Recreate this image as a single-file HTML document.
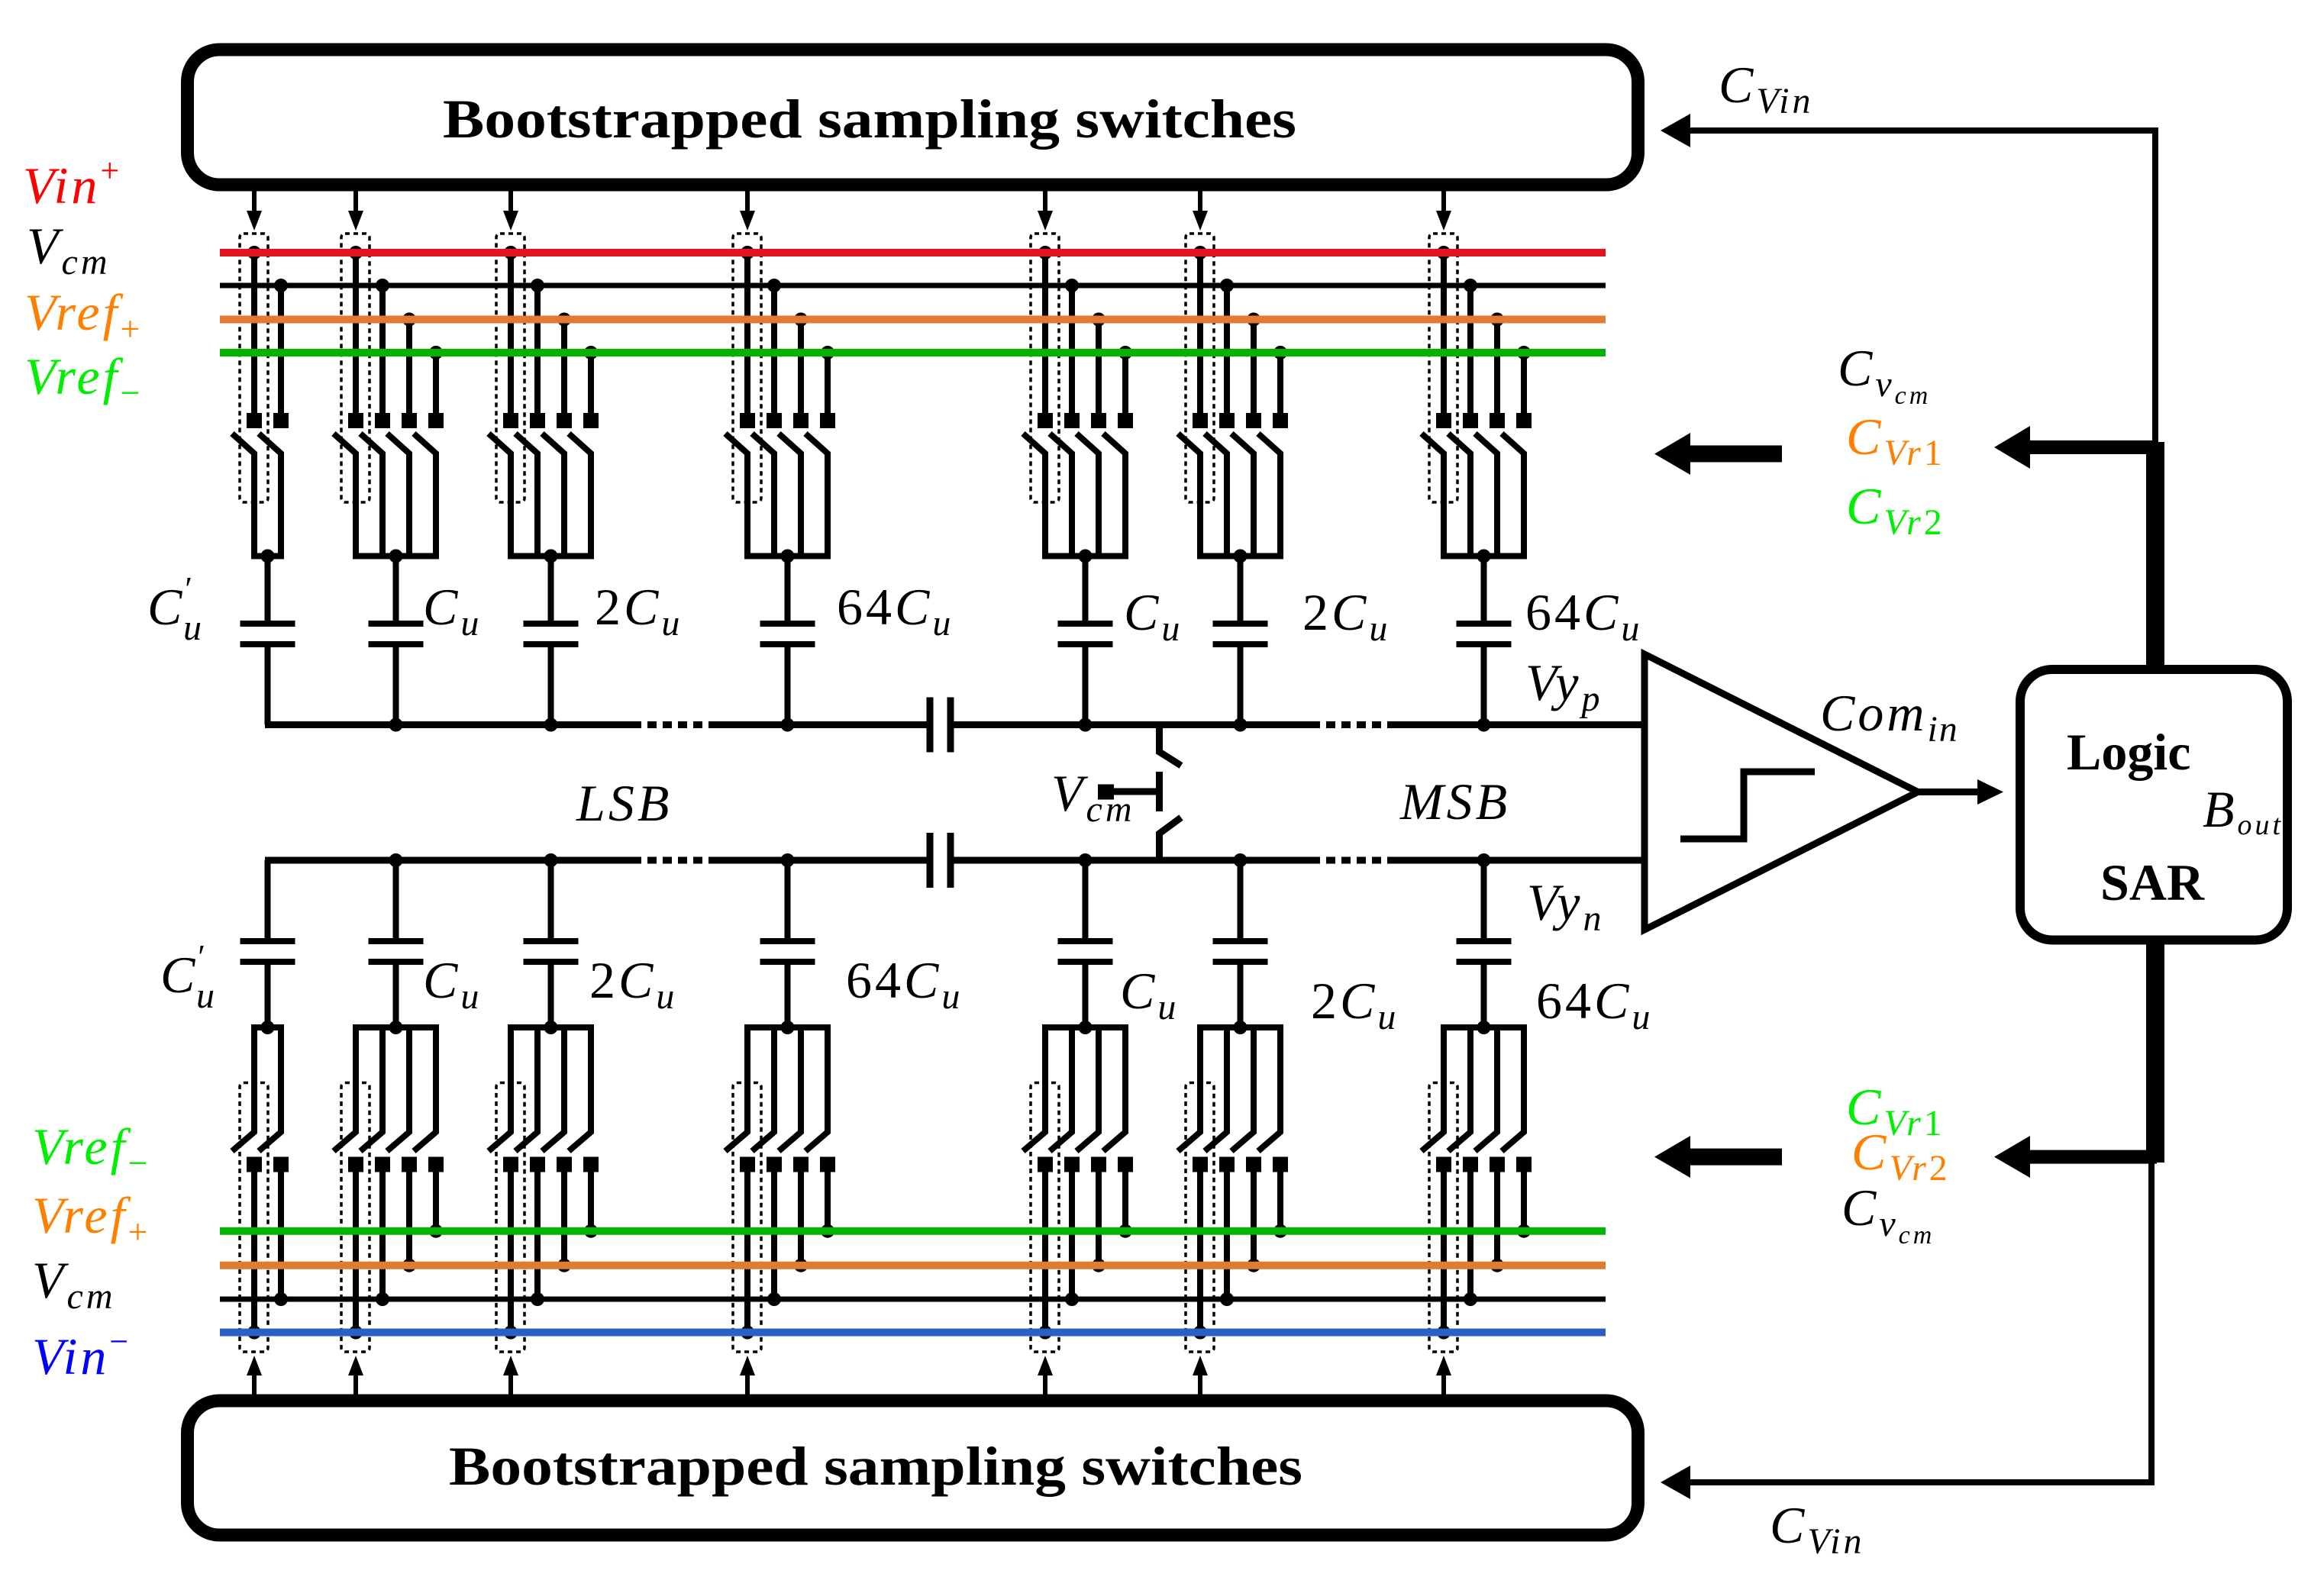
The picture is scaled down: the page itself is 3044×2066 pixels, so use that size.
<!DOCTYPE html>
<html><head><meta charset="utf-8"><style>
html,body{margin:0;padding:0;background:#fff;}
svg{display:block;}
text{font-family:"Liberation Serif",serif;}
.m{font-style:italic;font-size:68px;letter-spacing:4px;}
.b{font-weight:bold;}
</style></head><body>
<svg id="s" width="3044" height="2066" viewBox="0 0 3044 2066" xmlns="http://www.w3.org/2000/svg">
<g id="g" stroke-linecap="butt"></g>
<rect x="245.5" y="65" width="1900" height="177" rx="42" fill="none" stroke="#000" stroke-width="17"/>
<rect x="245.5" y="1835" width="1900" height="176" rx="42" fill="none" stroke="#000" stroke-width="17"/>
<text x="580" y="180" class="b" font-size="72" textLength="1118" lengthAdjust="spacingAndGlyphs">Bootstrapped sampling switches</text>
<text x="588" y="1945" class="b" font-size="72" textLength="1118" lengthAdjust="spacingAndGlyphs">Bootstrapped sampling switches</text>
<line x1="288" y1="331" x2="2103" y2="331" stroke="#e3141f" stroke-width="10"/>
<line x1="288" y1="374" x2="2103" y2="374" stroke="#000" stroke-width="7"/>
<line x1="288" y1="418.5" x2="2103" y2="418.5" stroke="#e07b30" stroke-width="10"/>
<line x1="288" y1="462" x2="2103" y2="462" stroke="#00b400" stroke-width="10"/>
<line x1="288" y1="1612.7" x2="2103" y2="1612.7" stroke="#00b400" stroke-width="10"/>
<line x1="288" y1="1657.7" x2="2103" y2="1657.7" stroke="#e07b30" stroke-width="10"/>
<line x1="288" y1="1702" x2="2103" y2="1702" stroke="#000" stroke-width="7"/>
<line x1="288" y1="1745.5" x2="2103" y2="1745.5" stroke="#2a5fc4" stroke-width="10"/>
<text x="30" y="266" class="m" font-size="72" letter-spacing="8" fill="#ff0000">Vin<tspan font-style="normal" font-size="44" dy="-28" letter-spacing="0">+</tspan></text>
<text x="35" y="345" class="m" font-size="72">V<tspan font-size="48" dy="14">cm</tspan></text>
<text x="32" y="432" class="m" font-size="72" letter-spacing="8" fill="#ff8000">Vref<tspan font-style="normal" font-size="46" dy="14">+</tspan></text>
<text x="32" y="516" class="m" font-size="72" letter-spacing="8" fill="#00ee00">Vref<tspan font-style="normal" font-size="46" dy="14">−</tspan></text>
<text x="42" y="1525" class="m" font-size="72" letter-spacing="8" fill="#00ee00">Vref<tspan font-style="normal" font-size="46" dy="14">−</tspan></text>
<text x="42" y="1615" class="m" font-size="72" letter-spacing="8" fill="#ff8000">Vref<tspan font-style="normal" font-size="46" dy="14">+</tspan></text>
<text x="42" y="1700" class="m" font-size="72">V<tspan font-size="48" dy="14">cm</tspan></text>
<text x="42" y="1800" class="m" font-size="72" letter-spacing="8" fill="#0000ff">Vin<tspan font-style="normal" font-size="44" dy="-28" letter-spacing="0">−</tspan></text>
<text x="193" y="818" class="m">C<tspan font-size="44" dy="-32" font-style="normal">′</tspan><tspan font-size="48" dx="-16" dy="52">u</tspan></text>
<text x="554" y="818" class="m">C<tspan font-size="48" dy="14">u</tspan></text>
<text x="779" y="818" class="m"><tspan font-style="normal">2</tspan>C<tspan font-size="48" dy="14">u</tspan></text>
<text x="1096" y="818" class="m"><tspan font-style="normal">64</tspan>C<tspan font-size="48" dy="14">u</tspan></text>
<text x="1472" y="825" class="m">C<tspan font-size="48" dy="14">u</tspan></text>
<text x="1706" y="825" class="m"><tspan font-style="normal">2</tspan>C<tspan font-size="48" dy="14">u</tspan></text>
<text x="1998" y="825" class="m"><tspan font-style="normal">64</tspan>C<tspan font-size="48" dy="14">u</tspan></text>
<text x="210" y="1300" class="m">C<tspan font-size="44" dy="-32" font-style="normal">′</tspan><tspan font-size="48" dx="-16" dy="52">u</tspan></text>
<text x="554" y="1307" class="m">C<tspan font-size="48" dy="14">u</tspan></text>
<text x="772" y="1307" class="m"><tspan font-style="normal">2</tspan>C<tspan font-size="48" dy="14">u</tspan></text>
<text x="1108" y="1307" class="m"><tspan font-style="normal">64</tspan>C<tspan font-size="48" dy="14">u</tspan></text>
<text x="1467" y="1321" class="m">C<tspan font-size="48" dy="14">u</tspan></text>
<text x="1717" y="1334" class="m"><tspan font-style="normal">2</tspan>C<tspan font-size="48" dy="14">u</tspan></text>
<text x="2012" y="1334" class="m"><tspan font-style="normal">64</tspan>C<tspan font-size="48" dy="14">u</tspan></text>
<text x="755" y="1075" class="m" letter-spacing="8">LSB</text>
<text x="1834" y="1073" class="m" letter-spacing="8">MSB</text>
<text x="1377" y="1062" class="m">V<tspan font-size="48" dy="14">cm</tspan></text>
<text x="1998" y="917" class="m" letter-spacing="10">Vy<tspan font-size="48" dy="14">p</tspan></text>
<text x="2000" y="1205" class="m" letter-spacing="10">Vy<tspan font-size="48" dy="14">n</tspan></text>
<text x="2384" y="957" class="m" letter-spacing="6">Com<tspan font-size="48" dy="14" letter-spacing="2">in</tspan></text>
<text x="2251" y="134" class="m">C<tspan font-size="48" dy="14">Vin</tspan></text>
<text x="2318" y="2021" class="m">C<tspan font-size="48" dy="14">Vin</tspan></text>
<text x="2407" y="505" class="m">C<tspan font-size="48" dy="14">v</tspan><tspan font-size="34" dy="10">cm</tspan></text>
<text x="2418" y="595" class="m" fill="#ff8000">C<tspan font-size="48" dy="14">Vr<tspan font-style="normal">1</tspan></tspan></text>
<text x="2418" y="686" class="m" fill="#00ee00">C<tspan font-size="48" dy="14">Vr<tspan font-style="normal">2</tspan></tspan></text>
<text x="2418" y="1473" class="m" fill="#00ee00">C<tspan font-size="48" dy="14">Vr<tspan font-style="normal">1</tspan></tspan></text>
<text x="2425" y="1532" class="m" fill="#ff8000">C<tspan font-size="48" dy="14">Vr<tspan font-style="normal">2</tspan></tspan></text>
<text x="2412" y="1605" class="m">C<tspan font-size="48" dy="14">v</tspan><tspan font-size="34" dy="10">cm</tspan></text>
<rect x="2646" y="877" width="350" height="354.5" rx="42" fill="#fff" stroke="#000" stroke-width="12"/>
<text x="2707" y="1008" class="b" font-size="68">Logic</text>
<text x="2885" y="1083" class="m" font-size="54" letter-spacing="0">B<tspan font-size="38" dy="10">out</tspan></text>
<text x="2751" y="1179" class="b" font-size="68">SAR</text>
</svg>
<script>
(function(){
var g=document.getElementById('g'),NS='http://www.w3.org/2000/svg';
function el(t,a){var e=document.createElementNS(NS,t);for(var k in a)e.setAttribute(k,a[k]);g.appendChild(e);return e;}
function L(x1,y1,x2,y2,w,extra){var a={x1:x1,y1:y1,x2:x2,y2:y2,stroke:'#000','stroke-width':w||9};if(extra)for(var k in extra)a[k]=extra[k];return el('line',a);}
function P(d,w,fill){return el('path',{d:d,stroke:fill?'none':'#000','stroke-width':w||9,fill:fill||'none','stroke-linejoin':'miter'});}
function D(x,y,r){el('circle',{cx:x,cy:y,r:r||9,fill:'#000'});}
function Sq(x,y){el('rect',{x:x-10,y:y-10,width:20,height:20,fill:'#000'});}
var starts=[333,466,669,979,1369,1572,1891],cnt=[2,4,4,4,4,4,4],sp=35;
var topB=[331,374,418.5,462],botB=[1745.5,1702,1657.7,1612.7];
starts.forEach(function(x0,gi){
 var n=cnt[gi],xn=x0+sp*(n-1)/2,xl=x0+sp*(n-1);
 L(x0,250,x0,285,6);P('M'+(x0-10)+' 276 L'+x0+' 302 L'+(x0+10)+' 276 Z',0,'#000');
 el('rect',{x:x0-19,y:306,width:37,height:352,rx:5,fill:'none',stroke:'#000','stroke-width':3.5,'stroke-dasharray':'6 5'});
 for(var k=0;k<n;k++){var xk=x0+sp*k;D(xk,topB[k]);L(xk,topB[k],xk,551,8);Sq(xk,551);
  P('M'+(xk-29)+' 568 L'+xk+' 594 L'+xk+' 728.5',8);}
 L(x0-4,728.5,xl+4,728.5,8);D(xn,728.5);L(xn,728.5,xn,813,8);
 el('rect',{x:xn-36,y:813,width:72,height:8,fill:'#000'});el('rect',{x:xn-36,y:840,width:72,height:8,fill:'#000'});
 L(xn,848,xn,949.5,8);if(gi>0)D(xn,949.5);
 L(x0,1835,x0,1795,6);P('M'+(x0-10)+' 1802 L'+x0+' 1776 L'+(x0+10)+' 1802 Z',0,'#000');
 el('rect',{x:x0-19,y:1418.5,width:37,height:352.5,rx:5,fill:'none',stroke:'#000','stroke-width':3.5,'stroke-dasharray':'6 5'});
 for(var k=0;k<n;k++){var xk=x0+sp*k;D(xk,botB[k]);L(xk,botB[k],xk,1525,8);Sq(xk,1525.5);
  P('M'+(xk-29)+' 1508 L'+xk+' 1483 L'+xk+' 1346',8);}
 L(x0-4,1346,xl+4,1346,8);D(xn,1346);L(xn,1346,xn,1264,8);
 el('rect',{x:xn-36,y:1229,width:72,height:8,fill:'#000'});el('rect',{x:xn-36,y:1256,width:72,height:8,fill:'#000'});
 L(xn,1229,xn,1127,8);if(gi>0)D(xn,1127);
});
[[949.5],[1127]].forEach(function(a){var y=a[0];
 L(347,y,828,y,9);L(828,y,937,y,9,{'stroke-dasharray':'12 8'});L(937,y,1218,y,9);
 L(1245,y,1717,y,9);L(1717,y,1823,y,9,{'stroke-dasharray':'12 8'});L(1823,y,2154,y,9);
 L(1218,y-36,1218,y+36,9);L(1245,y-36,1245,y+36,9);});
P('M1518.5 949.5 L1518.5 985 L1547 1003',9);P('M1518.5 1127 L1518.5 1092 L1547 1071',9);
L(1518.5,1011,1518.5,1063,9);L(1455,1037,1518.5,1037,9);el('rect',{x:1438,y:1027.5,width:21,height:20,fill:'#000'});
P('M2154 857 L2154 1218 L2512 1037.5 Z',9);
P('M2201 1099 L2284 1099 L2284 1011 L2377 1011',9);
L(2512,1037.5,2596,1037.5,9);P('M2590 1021 L2624 1037.5 L2590 1054 Z',0,'#000');
P('M2214 171 L2823 171 L2823 880',8);P('M2175 171 L2214 149 L2214 193 Z',0,'#000');
el('rect',{x:2811,y:579,width:24,height:300,fill:'#000'});
el('rect',{x:2655,y:577,width:170,height:18,fill:'#000'});P('M2612 586 L2659 558 L2659 614 Z',0,'#000');
el('rect',{x:2210,y:583.5,width:124,height:22,fill:'#000'});P('M2167 594.6 L2214 567 L2214 622 Z',0,'#000');
el('rect',{x:2811,y:1231,width:24,height:292,fill:'#000'});
el('rect',{x:2655,y:1506.6,width:170,height:18,fill:'#000'});P('M2612 1515.6 L2659 1488 L2659 1543 Z',0,'#000');
el('rect',{x:2210,y:1504.6,width:124,height:22,fill:'#000'});P('M2167 1515.6 L2214 1488 L2214 1543 Z',0,'#000');
P('M2818 1520 L2818 1942 L2212 1942',8);P('M2175 1942 L2214 1920 L2214 1964 Z',0,'#000');
})();
</script>
</body></html>
